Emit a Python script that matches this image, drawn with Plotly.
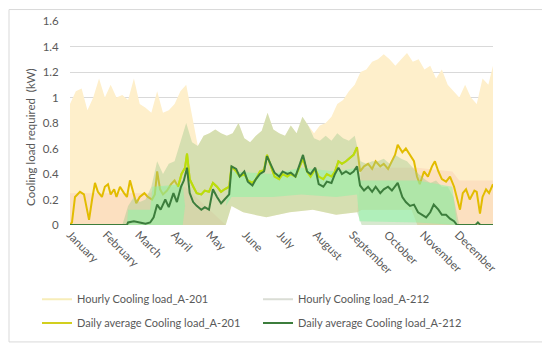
import plotly.graph_objects as go

# ---------------- data ----------------
months = ["January", "February", "March", "April", "May", "June", "July",
          "August", "September", "October", "November", "December"]
month_start_day = [1, 32, 60, 91, 121, 152, 182, 213, 244, 274, 305, 335]
y_ticks = [0, 0.2, 0.4, 0.6, 0.8, 1.0, 1.2, 1.4, 1.6]

# 5-day grid for hourly envelopes
hourly_days = [1, 6, 11, 16, 21, 26, 31, 36, 41, 46, 51, 56, 61, 66, 71, 76, 81, 86, 91, 96,
               101, 106, 111, 116, 121, 126, 131, 136, 141, 146, 151, 156, 161, 166, 171, 176,
               181, 186, 191, 196, 201, 206, 211, 216, 221, 226, 231, 236, 241, 246, 251, 256,
               261, 266, 271, 276, 281, 286, 291, 296, 301, 306, 311, 316, 321, 326, 331, 336,
               341, 346, 351, 356, 361, 365]
hourly_max_A201 = [0.95, 1.05, 1.07, 0.9, 1.0, 1.15, 1.0, 1.1, 1.0, 1.02, 0.98, 1.15, 0.95, 0.92,
                   0.88, 1.05, 0.88, 0.9, 0.95, 1.05, 1.1, 0.85, 0.62, 0.7, 0.72, 0.75, 0.72, 0.7,
                   0.72, 0.8, 0.68, 0.65, 0.7, 0.74, 0.88, 0.75, 0.72, 0.7, 0.78, 0.72, 0.85, 0.78,
                   0.72, 0.78, 0.8, 0.85, 0.95, 0.98, 1.05, 1.1, 1.2, 1.22, 1.28, 1.3, 1.34, 1.3,
                   1.25, 1.3, 1.35, 1.28, 1.3, 1.22, 1.25, 1.15, 1.22, 1.1, 1.05, 1.0, 1.1, 1.0,
                   0.95, 1.15, 1.1, 1.25]
hourly_max_A212 = [0, 0, 0, 0, 0, 0, 0, 0, 0, 0, 0.15, 0.22, 0.18, 0.2, 0.3, 0.5, 0.4, 0.48, 0.5,
                   0.65, 0.8, 0.65, 0.62, 0.7, 0.72, 0.75, 0.72, 0.7, 0.72, 0.8, 0.68, 0.65, 0.7,
                   0.74, 0.88, 0.75, 0.72, 0.7, 0.78, 0.72, 0.85, 0.78, 0.68, 0.66, 0.7, 0.66,
                   0.72, 0.68, 0.66, 0.7, 0.5, 0.48, 0.5, 0.5, 0.52, 0.48, 0.55, 0.52, 0.5, 0.45,
                   0.4, 0.36, 0.33, 0.35, 0.3, 0.3, 0.22, 0, 0, 0, 0, 0, 0, 0]

# lower envelope and dense band of the hourly A-201 series
lo201_days = [1, 70, 75, 100, 135, 140, 150, 170, 190, 210, 230, 248, 252, 295, 300, 330, 336, 365]
hourly_min_A201 = [0, 0, 0, 0, 0, 0.15, 0.1, 0.06, 0.1, 0.12, 0.08, 0.1, 0.12, 0.12, 0, 0, 0, 0]
hourly_dense_A201 = [0.25, 0.25, 0.3, 0.3, 0, 0.15, 0.1, 0.06, 0.1, 0.12, 0.08, 0.1, 0.45, 0.45,
                     0.45, 0.42, 0.35, 0.35]

# lower envelope and dense band of the hourly A-212 series
lo212_days = [1, 135, 140, 150, 170, 190, 210, 230, 248, 252, 365]
hourly_min_A212 = [0, 0, 0.15, 0.1, 0.06, 0.1, 0.12, 0.08, 0.1, 0, 0]
dense212_days = [1, 50, 51, 70, 72, 98, 100, 135, 140, 175, 200, 230, 248, 250, 300, 330, 334, 365]
hourly_dense_lo_A212 = [0, 0, 0, 0, 0, 0, 0.15, 0.15, 0.22, 0.22, 0.24, 0.22, 0.24, 0.03, 0.02, 0, 0, 0]
hourly_dense_hi_A212 = [0, 0, 0.12, 0.12, 0.3, 0.32, 0.15, 0.15, 0.42, 0.4, 0.45, 0.42, 0.45, 0.35, 0.35, 0.3, 0, 0]

# daily averages
daily_days_A201 = [1, 2.7, 5.3, 9.6, 13, 15.6, 17.4, 20, 22.5, 25, 28.5, 31, 33.7, 36, 39, 41, 44,
                   47.5, 50, 52.6, 55, 58, 61, 65, 68, 71.6, 74, 76, 78.5, 81, 84.5, 88, 91, 94,
                   97, 100, 101.7, 104, 107, 110, 114, 117, 120.6, 124, 127.5, 131, 134, 138, 140,
                   144, 147, 151, 154, 158, 161, 164.5, 168, 170.5, 174, 177, 181, 184, 188, 191,
                   195, 198, 201.5, 205, 208, 212, 215, 219, 222, 226, 229, 232, 235, 238.5, 242,
                   245, 248, 250.6, 254, 257.5, 261, 264, 268, 271, 274.7, 278, 280.7, 283, 287,
                   290, 293.6, 297, 299.6, 302, 305.6, 309, 312.5, 315, 318, 321, 324.6, 328,
                   331.5, 334, 336.6, 339, 341.8, 345, 349, 351, 353.8, 356, 359, 361.6, 365]
daily_A201 = [0.0, 0.02, 0.22, 0.26, 0.24, 0.12, 0.04, 0.2, 0.33, 0.26, 0.22, 0.3, 0.32, 0.24,
              0.28, 0.22, 0.3, 0.25, 0.22, 0.35, 0.26, 0.17, 0.22, 0.25, 0.22, 0.2, 0.24, 0.42,
              0.28, 0.24, 0.27, 0.32, 0.35, 0.3, 0.4, 0.45, 0.56, 0.36, 0.3, 0.25, 0.24, 0.27,
              0.26, 0.33, 0.3, 0.26, 0.28, 0.3, 0.46, 0.42, 0.38, 0.4, 0.35, 0.33, 0.36, 0.42,
              0.43, 0.55, 0.46, 0.38, 0.36, 0.4, 0.38, 0.4, 0.38, 0.45, 0.52, 0.42, 0.38, 0.44,
              0.38, 0.36, 0.4, 0.38, 0.42, 0.5, 0.48, 0.5, 0.53, 0.55, 0.61, 0.42, 0.46, 0.48,
              0.44, 0.5, 0.46, 0.48, 0.44, 0.5, 0.55, 0.63, 0.57, 0.6, 0.55, 0.5, 0.38, 0.32,
              0.42, 0.38, 0.46, 0.5, 0.42, 0.36, 0.34, 0.38, 0.3, 0.2, 0.12, 0.25, 0.28, 0.2,
              0.27, 0.26, 0.09, 0.22, 0.28, 0.25, 0.32]
daily_days_A212 = [1, 50, 51, 56, 61, 66, 70, 73, 76, 79, 83, 86, 90, 93, 96.5, 99, 101.7, 104,
                   107, 110, 114, 117, 120.6, 124, 127.5, 131, 134, 138, 140, 144, 147, 151, 154,
                   158, 161, 164.5, 168, 170.5, 174, 177, 181, 184, 188, 191, 195, 198, 201.5,
                   205, 208, 212, 215, 219, 222, 226, 229, 232, 235, 238.5, 242, 245, 248, 250.6,
                   254, 257.5, 261, 264, 268, 271, 274.7, 278, 280.7, 283, 287, 290, 293.6, 297,
                   300.5, 304, 307.5, 311, 314, 318, 321, 324.6, 328, 331.5, 334, 350, 352, 354,
                   365]
daily_A212 = [0, 0, 0.02, 0.03, 0.02, 0.01, 0.02, 0.06, 0.16, 0.12, 0.2, 0.14, 0.25, 0.18, 0.3,
              0.35, 0.45, 0.25, 0.18, 0.15, 0.12, 0.14, 0.12, 0.28, 0.22, 0.17, 0.2, 0.24, 0.46,
              0.44, 0.38, 0.42, 0.34, 0.31, 0.36, 0.4, 0.42, 0.54, 0.47, 0.41, 0.38, 0.42, 0.4,
              0.41, 0.38, 0.46, 0.55, 0.42, 0.4, 0.45, 0.32, 0.3, 0.34, 0.33, 0.4, 0.45, 0.4,
              0.42, 0.4, 0.42, 0.46, 0.31, 0.27, 0.3, 0.26, 0.3, 0.25, 0.28, 0.3, 0.27, 0.3,
              0.33, 0.22, 0.18, 0.15, 0.16, 0.1, 0.08, 0.06, 0.1, 0.16, 0.12, 0.08, 0.08, 0.05,
              0.03, 0.0, 0.0, 0.02, 0.0, 0.0]

# ---------------- styles ----------------
TXT = "#595959"
FONT = "Lato"
BEIGE = "rgb(254,239,203)"
PEACH = "rgb(252,224,192)"
GREEN_BAND = "rgba(160,200,140,0.42)"
MINT = "rgba(137,245,165,0.5)"
GOLD = "#E2BC00"
LIME = "#BADF0A"
DKGREEN = "#3C7D3C"

fig = go.Figure()
nolegend = dict(showlegend=False, hoverinfo="skip", mode="lines")

# Hourly A-201 band
fig.add_trace(go.Scatter(x=lo201_days, y=hourly_min_A201, line=dict(width=0), **nolegend))
fig.add_trace(go.Scatter(x=hourly_days, y=hourly_max_A201, line=dict(width=0),
                         fill="tonexty", fillcolor=BEIGE, **nolegend))
fig.add_trace(go.Scatter(x=lo201_days, y=hourly_min_A201, line=dict(width=0), **nolegend))
fig.add_trace(go.Scatter(x=lo201_days, y=hourly_dense_A201, line=dict(width=0),
                         fill="tonexty", fillcolor=PEACH, **nolegend))
# Daily A-201
fig.add_trace(go.Scatter(x=daily_days_A201, y=daily_A201, line=dict(color=GOLD, width=2), **nolegend))
# Hourly A-212 band
fig.add_trace(go.Scatter(x=lo212_days, y=hourly_min_A212, line=dict(width=0), **nolegend))
fig.add_trace(go.Scatter(x=hourly_days, y=hourly_max_A212, line=dict(width=0),
                         fill="tonexty", fillcolor=GREEN_BAND, **nolegend))
fig.add_trace(go.Scatter(x=dense212_days, y=hourly_dense_lo_A212, line=dict(width=0), **nolegend))
fig.add_trace(go.Scatter(x=dense212_days, y=hourly_dense_hi_A212, line=dict(width=0),
                         fill="tonexty", fillcolor=MINT, **nolegend))
# Daily A-201 where it lies under the A-212 band (tinted lime in the original)
sub = [(d, v) for d, v in zip(daily_days_A201, daily_A201) if 94 <= d <= 249]
fig.add_trace(go.Scatter(x=[d for d, _ in sub], y=[v for _, v in sub],
                         line=dict(color=LIME, width=2), **nolegend))
# Daily A-212
fig.add_trace(go.Scatter(x=daily_days_A212, y=daily_A212, line=dict(color=DKGREEN, width=2), **nolegend))

# legend entries
fig.add_trace(go.Scatter(x=[None], y=[None], mode="lines", name="Hourly Cooling load_A-201",
                         line=dict(color="#F7EDB8", width=2), legend="legend"))
fig.add_trace(go.Scatter(x=[None], y=[None], mode="lines", name="Hourly Cooling load_A-212",
                         line=dict(color="#DADDD5", width=2), legend="legend"))
fig.add_trace(go.Scatter(x=[None], y=[None], mode="lines", name="Daily average Cooling load_A-201",
                         line=dict(color="#D2CF1E", width=2), legend="legend2"))
fig.add_trace(go.Scatter(x=[None], y=[None], mode="lines", name="Daily average Cooling load_A-212",
                         line=dict(color=DKGREEN, width=2), legend="legend2"))

# page has an 8px body margin: figure spans page pixels 8..550 / 8..350
OFF = 8
W, H = 550 - OFF, 350 - OFF
PL, PR, PT, PB = 70, 493, 20.5, 225.5          # plot area in page pixels
L, R, T, B = PL - OFF, W - (PR - OFF), PT - OFF, H - (PB - OFF)
pw, ph = W - L - R, H - T - B

def px(xp):
    return (xp - OFF - L) / pw

def py(yp):
    return (H - B - (yp - OFF)) / ph

legend_common = dict(orientation="h", xanchor="left", yanchor="middle", traceorder="normal",
                     font=dict(family=FONT, size=11, color=TXT),
                     entrywidth=176, entrywidthmode="pixels", bgcolor="rgba(0,0,0,0)")

fig.update_layout(
    width=W, height=H,
    margin=dict(l=L, r=R, t=T, b=B, autoexpand=False),
    paper_bgcolor="white", plot_bgcolor="white",
    font=dict(family=FONT, color=TXT, size=11),
    legend=dict(x=px(37), y=py(300), **legend_common),
    legend2=dict(x=px(37), y=py(324), **legend_common),
    xaxis=dict(range=[1, 365], tickvals=month_start_day, ticktext=months, tickangle=45,
               showgrid=False, zeroline=False, showline=False, ticks="",
               tickfont=dict(family=FONT, size=11.5, color=TXT)),
    yaxis=dict(range=[0, 1.6], tickvals=y_ticks, ticktext=[f"{v:g}" for v in y_ticks],
               showgrid=True, gridcolor="#D9D9D9", gridwidth=1, zeroline=False,
               ticks="outside", ticklen=8, tickcolor="rgba(0,0,0,0)",
               tickfont=dict(family=FONT, size=11.5, color=TXT)),
    annotations=[dict(text="Cooling load required  (kW)", textangle=-90,
                      xref="paper", yref="paper", x=px(31), y=py(138),
                      xanchor="center", yanchor="middle",
                      showarrow=False, font=dict(family=FONT, size=11.5, color=TXT))],
    shapes=[dict(type="rect", xref="paper", yref="paper", x0=px(9), x1=px(543),
                 y0=py(343), y1=py(9), line=dict(color="#D9D9D9", width=1),
                 fillcolor="rgba(0,0,0,0)", layer="below")],
)

fig.write_html("out.html")
